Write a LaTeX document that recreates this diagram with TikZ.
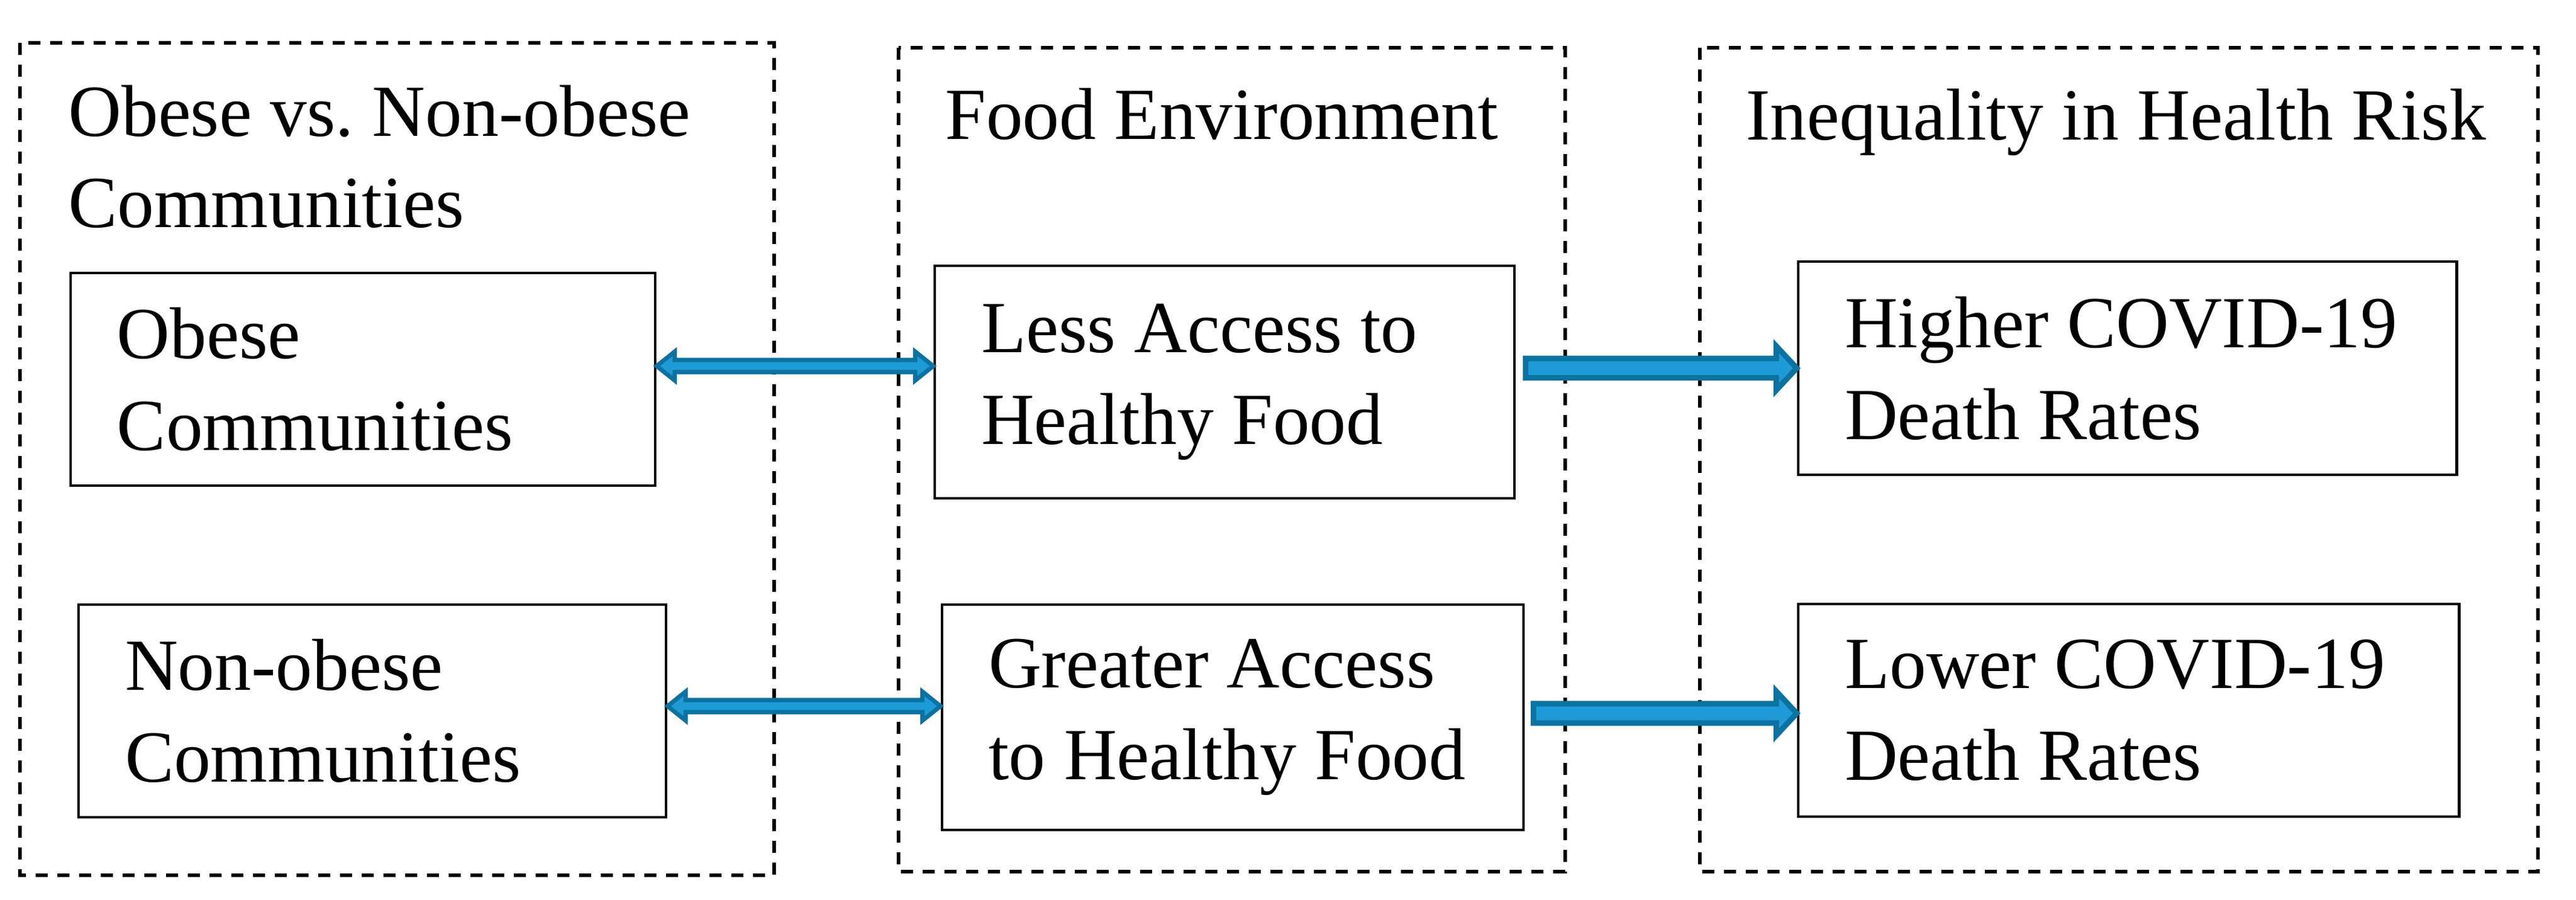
\documentclass[tikz,border=0pt]{standalone}
\usepackage{fontspec}
\setmainfont{Liberation Serif}
\usetikzlibrary{calc}

\definecolor{arrowdark}{RGB}{12,114,160}
\definecolor{arrowlight}{RGB}{30,155,215}

\begin{document}
\begin{tikzpicture}[every node/.style={font=\fontsize{17.3}{21.6}\selectfont},
  box/.style={draw=black, line width=0.7pt, inner xsep=0.385cm, inner ysep=0pt, align=flush left},
  group/.style={draw=black, line width=0.85pt, dash pattern=on 0.1cm off 0.08cm},
  title/.style={anchor=base west, inner sep=0pt, align=left},
  bluearrow/.style={draw=arrowdark, fill=arrowlight, line join=miter}]
\useasboundingbox (0,0) rectangle (21.33,-7.45);

% the three groups
\draw[group] (0.165,-0.355) rectangle (6.41,-7.245);
\draw[group] (7.44,-0.395) rectangle (12.96,-7.215);
\draw[group] (14.075,-0.395) rectangle (21.015,-7.215);

% base of a two-line title is its last line
\node[title] (ttlobese) at (0.56,-1.885) {Obese vs.\ Non-obese\\Communities};
\node[title] (ttlfood) at (7.82,-1.155) {Food Environment};
\node[title] (ttlrisk) at (14.45,-1.16) {Inequality in Health Risk};

\node[box, text width=4.07cm, minimum height=1.76cm] (obese) at (3.005,-3.14) {Obese\\Communities};
\node[box, text width=4.095cm, minimum height=1.76cm] (nonobese) at (3.0825,-5.885) {Non-obese\\Communities};
\node[box, text width=4.03cm, minimum height=1.925cm] (less) at (10.14,-3.1625) {Less Access to\\Healthy Food};
\node[box, text width=4.045cm, minimum height=1.865cm] (greater) at (10.2075,-5.9375) {Greater Access\\to~Healthy~Food};
\node[box, text width=4.68cm, minimum height=1.765cm] (higher) at (17.615,-3.0475) {Higher COVID-19\\Death Rates};
\node[box, text width=4.70cm, minimum height=1.76cm] (lower) at (17.625,-5.88) {Lower COVID-19\\Death Rates};

% double arrows
\draw[bluearrow, line width=1pt] let \p1=([yshift=0.11cm]obese.east), \p2=(less.west) in
  (\x1,\y1) -- (\x1+0.15cm,\y1+0.12cm) -- (\x1+0.15cm,\y1+0.05cm)
  -- (\x2-0.15cm,\y1+0.05cm) -- (\x2-0.15cm,\y1+0.12cm) -- (\x2,\y1)
  -- (\x2-0.15cm,\y1-0.12cm) -- (\x2-0.15cm,\y1-0.05cm)
  -- (\x1+0.15cm,\y1-0.05cm) -- (\x1+0.15cm,\y1-0.12cm) -- cycle;
\draw[bluearrow, line width=1pt] let \p1=([yshift=0.04cm]nonobese.east), \p2=(greater.west) in
  (\x1,\y1) -- (\x1+0.15cm,\y1+0.12cm) -- (\x1+0.15cm,\y1+0.05cm)
  -- (\x2-0.15cm,\y1+0.05cm) -- (\x2-0.15cm,\y1+0.12cm) -- (\x2,\y1)
  -- (\x2-0.15cm,\y1-0.12cm) -- (\x2-0.15cm,\y1-0.05cm)
  -- (\x1+0.15cm,\y1-0.05cm) -- (\x1+0.15cm,\y1-0.12cm) -- cycle;

% fat arrows
\draw[bluearrow, line width=1.3pt] let \p1=(less.east), \p2=(higher.west) in
  (\x1+0.08cm,\y2+0.08cm) -- (\x2-0.17cm,\y2+0.08cm) -- (\x2-0.17cm,\y2+0.1825cm) -- (\x2,\y2)
  -- (\x2-0.17cm,\y2-0.1825cm) -- (\x2-0.17cm,\y2-0.08cm) -- (\x1+0.08cm,\y2-0.08cm) -- cycle;
\draw[bluearrow, line width=1.3pt] let \p1=(greater.east), \p2=([yshift=-0.025cm]lower.west) in
  (\x1+0.07cm,\y2+0.08cm) -- (\x2-0.17cm,\y2+0.08cm) -- (\x2-0.17cm,\y2+0.1825cm) -- (\x2,\y2)
  -- (\x2-0.17cm,\y2-0.1825cm) -- (\x2-0.17cm,\y2-0.08cm) -- (\x1+0.07cm,\y2-0.08cm) -- cycle;
\end{tikzpicture}
\end{document}
